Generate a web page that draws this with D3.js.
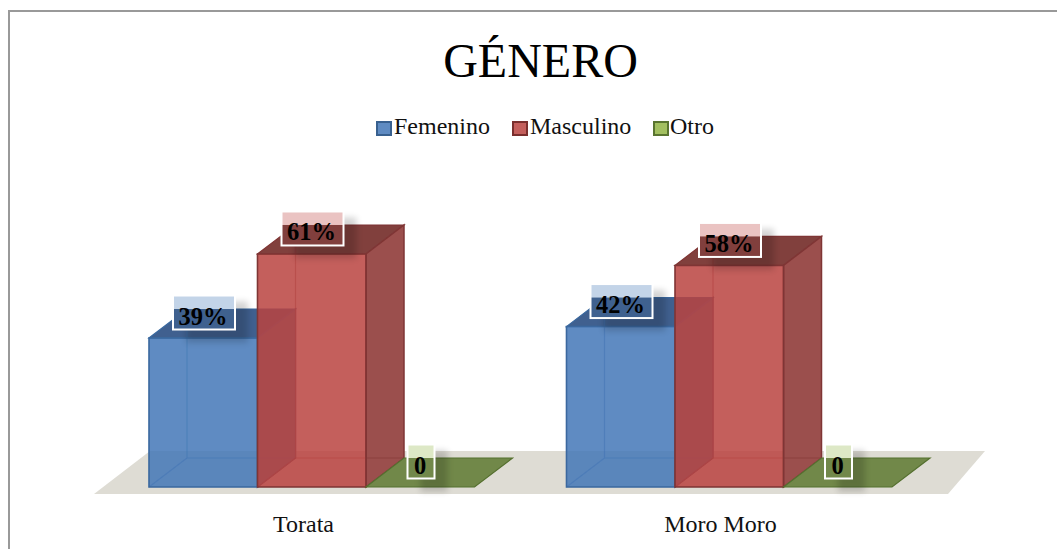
<!DOCTYPE html>
<html><head><meta charset="utf-8">
<script src="https://cdn.jsdelivr.net/npm/d3@7/dist/d3.min.js"></script>
<style>html,body{margin:0;padding:0;background:#fff}svg{display:block}text{font-family:"Liberation Serif",serif}</style>
</head><body><div id="c"></div>
<script>
const titleText = "GÉNERO";
const categories = ["Torata", "Moro Moro"];
const seriesNames = ["Femenino", "Masculino", "Otro"];
const femenino = [39, 42];
const masculino = [61, 58];
const otro = [0, 0];
const valueLabels = [["39%", "61%", "0"], ["42%", "58%", "0"]];
const seriesValues = [femenino, masculino, otro];

const front = ["#4377b7", "#ba4340", "#9bbb59"];
const legendFill = ["#5f8bc2", "#c45f5c", "#a3c060"];
const side = ["#4f7395", "#9b4f4d", "#7d9a48"];
const topC = ["#3f618f", "#813f3d", "#71884a"];
const edge = ["#3a689f", "#7f3534", "#55702f"];
const labelTint = ["#4f81bd", "#c0504d", "#9bbb59"];
const legendEdge = ["#38608f", "#7a2f2d", "#5a7530"];
const W = 1057, H = 549, dx = 38, dy = 29;
const x0 = d3.scaleBand().domain(categories).range([149, 984]);
const y = d3.scaleLinear().domain([0, 100]).range([487, 105]);
const groupW = 108.5;
const x1 = d3.scaleBand().domain(seriesNames).range([0, groupW * 3]);

const svg = d3.select("#c").append("svg").attr("width", W).attr("height", H);
const defs = svg.append("defs");
defs.append("filter").attr("id", "blur").attr("x", "-40%").attr("y", "-40%").attr("width", "180%").attr("height", "180%")
  .append("feGaussianBlur").attr("stdDeviation", 3);
defs.append("filter").attr("id", "soft").attr("x", "-5%").attr("y", "-5%").attr("width", "110%").attr("height", "110%")
  .append("feGaussianBlur").attr("stdDeviation", 0.5);

// frame: top and left only
svg.append("path").attr("d", `M9 ${H} V11 H${W}`).attr("fill", "none").attr("stroke", "#999").attr("stroke-width", 2);

svg.append("text").attr("x", 540.5).attr("y", 77).attr("text-anchor", "middle").attr("font-size", 48).attr("fill", "#000").text(titleText);

// legend
const legendX = [377, 513, 654], legendTextX = [394, 530, 670];
seriesNames.forEach((s, i) => {
  svg.append("rect").attr("x", legendX[i]).attr("y", 122).attr("width", 14).attr("height", 13)
    .attr("fill", legendFill[i]).attr("stroke", legendEdge[i]).attr("stroke-width", 2);
  svg.append("text").attr("x", legendTextX[i]).attr("y", 134).attr("font-size", 24).attr("fill", "#111").text(s);
});

// floor
const line = d3.line();
svg.append("path").attr("fill", "#dedcd4").attr("filter", "url(#soft)")
  .attr("d", line([[94, 494], [948, 494], [985, 451], [150, 451]]) + "Z");

const px = (c, s) => x0(c) + x1(s);
function drawBar(g, c, s, v, i) {
  const l = px(c, s), r = l + x1.bandwidth(), b = y(0), t = y(v);
  const e = edge[i];
  g.append("path").attr("fill", topC[i]).attr("stroke", e).attr("stroke-width", 1.2)
    .attr("d", line([[l, t], [r, t], [r + dx, t - dy], [l + dx, t - dy]]) + "Z");
  if (v > 0) {
    g.append("path").attr("fill", side[i]).attr("stroke", e).attr("stroke-width", 1.5)
      .attr("d", line([[r, t], [r + dx, t - dy], [r + dx, b - dy], [r, b]]) + "Z");
    g.append("path").attr("fill", "none").attr("stroke", e).attr("stroke-opacity", 0.55).attr("stroke-width", 1.2)
      .attr("d", line([[l + dx, t - dy], [l + dx, b - dy], [r + dx, b - dy]]));
    g.append("path").attr("fill", "none").attr("stroke", e).attr("stroke-opacity", 0.55).attr("stroke-width", 1.2)
      .attr("d", line([[l, b], [l + dx, b - dy]]));
    g.append("path").attr("fill", front[i]).attr("fill-opacity", 0.85).attr("stroke", e).attr("stroke-width", 1.6)
      .attr("d", line([[l, b], [l, t], [r, t], [r, b]]) + "Z");
  }
}
categories.forEach((c, ci) => {
  seriesNames.forEach((s, si) => {
    const g = svg.append("g").attr("class", "bar").attr("filter", "url(#soft)");
    drawBar(g, c, s, seriesValues[si][ci], si);
  });
});

// data labels: shadow, then pale box, then the bar's top colour showing through, outline, text
categories.forEach((c, ci) => {
  seriesNames.forEach((s, si) => {
    const t = y(seriesValues[si][ci]);
    const lw = si === 2 ? 27 : 62, lh = 34;
    const cx = px(c, s) + 55, ty = t - 42.5;
    svg.append("rect").attr("x", cx - lw / 2 + 13).attr("y", ty + 6).attr("width", lw).attr("height", lh + 7)
      .attr("fill", "#000").attr("opacity", 0.17).attr("filter", "url(#blur)");
  });
});
categories.forEach((c, ci) => {
  seriesNames.forEach((s, si) => {
    const t = y(seriesValues[si][ci]);
    const lw = si === 2 ? 27 : 62, lh = 34;
    const cx = px(c, s) + 55, ty = t - 42.5;
    const by = Math.max(t - dy, ty);
    svg.append("rect").attr("x", cx - lw / 2).attr("y", ty).attr("width", lw).attr("height", lh)
      .attr("fill", "#fff");
    svg.append("rect").attr("x", cx - lw / 2).attr("y", ty).attr("width", lw).attr("height", lh)
      .attr("fill", labelTint[si]).attr("fill-opacity", 0.34);
    svg.append("rect").attr("x", cx - lw / 2).attr("y", by).attr("width", lw).attr("height", ty + lh - by)
      .attr("fill", topC[si]);
    svg.append("rect").attr("x", cx - lw / 2).attr("y", ty).attr("width", lw).attr("height", lh)
      .attr("fill", "none").attr("stroke", "#fff").attr("stroke-width", 2);
    svg.append("text").attr("x", cx - 1).attr("y", ty + 29).attr("text-anchor", "middle")
      .attr("font-size", 24.5).attr("font-weight", "bold").attr("fill", "#000").text(valueLabels[ci][si]);
  });
});

// category labels
const catAxis = d3.axisBottom(d3.scalePoint().domain(categories).range([303, 720])).tickSize(0);
const ax = svg.append("g").attr("transform", "translate(0,513)").call(catAxis);
ax.select(".domain").remove();
ax.selectAll("text").attr("font-size", 24).attr("font-family", "Liberation Serif").attr("fill", "#111").attr("y", 0).attr("dy", "0.8em");
</script></body></html>
